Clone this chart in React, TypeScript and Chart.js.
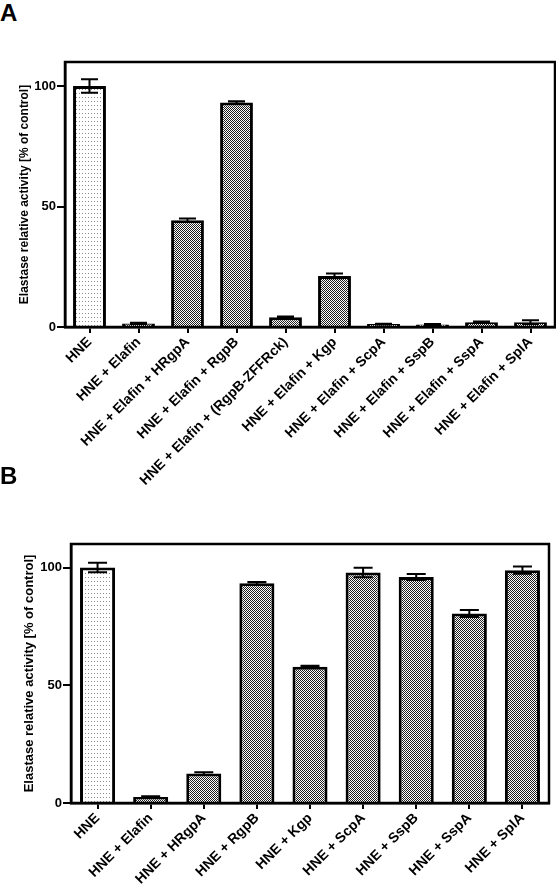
import React, { useEffect, useRef } from "react";
import { Chart, registerables } from "chart.js";

Chart.register(...registerables);

const LABELS_A = [
  "HNE",
  "HNE + Elafin",
  "HNE + Elafin + HRgpA",
  "HNE + Elafin + RgpB",
  "HNE + Elafin + (RgpB-ZFFRck)",
  "HNE + Elafin + Kgp",
  "HNE + Elafin + ScpA",
  "HNE + Elafin + SspB",
  "HNE + Elafin + SspA",
  "HNE + Elafin + SplA",
];
const VALUES_A = [100, 1.5, 44.3, 93.2, 4.0, 21.2, 1.2, 1.0, 2.0, 2.0];
const ERRORS_A = [2.8, 0.3, 0.7, 0.5, 0.4, 1.0, 0.2, 0.2, 0.3, 0.8];

const LABELS_B = [
  "HNE",
  "HNE + Elafin",
  "HNE + HRgpA",
  "HNE + RgpB",
  "HNE + Kgp",
  "HNE + ScpA",
  "HNE + SspB",
  "HNE + SspA",
  "HNE + SplA",
];
const VALUES_B = [100, 2.6, 12.5, 93.3, 57.9, 97.9, 96.0, 80.5, 98.9];
const ERRORS_B = [2.0, 0.3, 0.6, 0.6, 0.4, 2.0, 1.3, 1.5, 1.5];

const Y_TICKS = [0, 50, 100];
const Y_MIN = 0;
const Y_MAX = 110;
const Y_TITLE = "Elastase relative activity [% of control]";

const FONT = "'Liberation Sans', Arial, Helvetica, sans-serif";

function makeChecker(): CanvasPattern | string {
  const c = document.createElement("canvas");
  c.width = 2;
  c.height = 2;
  const g = c.getContext("2d");
  if (!g) return "#888";
  g.fillStyle = "#ffffff";
  g.fillRect(0, 0, 2, 2);
  g.fillStyle = "#1e1e1e";
  g.fillRect(0, 0, 1, 1);
  g.fillRect(1, 1, 1, 1);
  return g.createPattern(c, "repeat") || "#888";
}

function makeDots(): CanvasPattern | string {
  const c = document.createElement("canvas");
  c.width = 3;
  c.height = 4;
  const g = c.getContext("2d");
  if (!g) return "#eee";
  g.fillStyle = "#ffffff";
  g.fillRect(0, 0, 3, 4);
  g.fillStyle = "#8c8c8c";
  g.fillRect(1, 1, 1, 1);
  return g.createPattern(c, "repeat") || "#eee";
}

const errorBarsPlugin = {
  id: "errorBars",
  afterDatasetsDraw(chart: any, _args: any, opts: any) {
    const errs: number[] = opts.errors || [];
    const meta = chart.getDatasetMeta(0);
    const ys = chart.scales.y;
    const values: number[] = chart.data.datasets[0].data;
    const ctx = chart.ctx;
    ctx.save();
    ctx.strokeStyle = "#000";
    ctx.lineWidth = 2;
    const cap = opts.cap || 9;
    meta.data.forEach((bar: any, i: number) => {
      const e = errs[i] || 0;
      const v = values[i];
      const yt = ys.getPixelForValue(v + e);
      const yb = ys.getPixelForValue(v - e);
      const x = bar.x;
      ctx.beginPath();
      ctx.moveTo(x, yt);
      ctx.lineTo(x, yb);
      ctx.moveTo(x - cap, yt);
      ctx.lineTo(x + cap, yt);
      ctx.moveTo(x - cap, yb);
      ctx.lineTo(x + cap, yb);
      ctx.stroke();
    });
    ctx.restore();
  },
};

const framePlugin = {
  id: "frameBox",
  afterDatasetsDraw(chart: any) {
    const a = chart.chartArea;
    const ctx = chart.ctx;
    ctx.save();
    ctx.strokeStyle = "#000";
    ctx.lineWidth = 2.5;
    ctx.strokeRect(a.left, a.top, a.right - a.left, a.bottom - a.top);
    ctx.restore();
  },
};

type Area = { left: number; top: number; right: number; bottom: number };

function BarChart(props: {
  labels: string[];
  values: number[];
  errors: number[];
  width: number;
  height: number;
  area: Area;
  titlePad: number;
  titleSize: number;
  barPct: number;
  cap: number;
  style: React.CSSProperties;
}) {
  const ref = useRef<HTMLCanvasElement | null>(null);
  useEffect(() => {
    if (!ref.current) return;
    const checker = makeChecker();
    const dots = makeDots();
    const { area, width, height } = props;
    const chart = new Chart(ref.current, {
      type: "bar",
      data: {
        labels: props.labels,
        datasets: [
          {
            data: props.values,
            backgroundColor: props.values.map((_, i) => (i === 0 ? dots : checker)) as any,
            borderColor: "#000",
            borderWidth: 3,
            borderSkipped: "start",
            categoryPercentage: 1,
            barPercentage: props.barPct,
          },
        ],
      },
      options: {
        responsive: false,
        animation: false,
        events: [],
        layout: {
          padding: { left: 0, top: area.top, right: width - area.right, bottom: 0 },
        },
        plugins: {
          legend: { display: false },
          tooltip: { enabled: false },
          errorBars: { errors: props.errors, cap: props.cap },
        } as any,
        scales: {
          x: {
            offset: true,
            afterFit: (s: any) => {
              s.height = height - area.bottom;
            },
            grid: {
              display: true,
              drawOnChartArea: false,
              drawTicks: true,
              tickLength: 6,
              color: "#000",
              lineWidth: 2,
              offset: false,
            },
            border: { display: true, color: "#000", width: 2.5 },
            ticks: {
              autoSkip: false,
              minRotation: 45,
              maxRotation: 45,
              color: "#000",
              padding: 1,
              font: { family: FONT, size: 14, weight: "bold" },
            },
          },
          y: {
            min: Y_MIN,
            max: Y_MAX,
            afterFit: (s: any) => {
              s.width = area.left;
            },
            afterBuildTicks: (s: any) => {
              s.ticks = Y_TICKS.map((v) => ({ value: v }));
            },
            grid: {
              display: true,
              drawOnChartArea: false,
              drawTicks: true,
              tickLength: 8,
              color: "#000",
              lineWidth: 2,
            },
            border: { display: true, color: "#000", width: 2.5 },
            ticks: {
              color: "#000",
              padding: 1,
              font: { family: FONT, size: 13, weight: "bold" },
            },
            title: {
              display: true,
              text: Y_TITLE,
              color: "#000",
              padding: { top: props.titlePad, bottom: 0 },
              font: { family: FONT, size: props.titleSize, weight: "bold" },
            },
          },
        },
      },
      plugins: [errorBarsPlugin, framePlugin],
    });
    return () => chart.destroy();
  }, []);
  return (
    <canvas
      ref={ref}
      width={props.width}
      height={props.height}
      style={{ position: "absolute", width: props.width, height: props.height, ...props.style }}
    />
  );
}

export default function App() {
  const letter: React.CSSProperties = {
    position: "absolute",
    left: 0,
    fontFamily: FONT,
    fontWeight: "bold",
    fontSize: 24,
    lineHeight: "24px",
    color: "#000",
  };
  return (
    <div
      style={{
        position: "absolute",
        left: 0,
        top: 0,
        width: 556,
        height: 889,
        background: "#fff",
        overflow: "hidden",
      }}
    >
      <div style={{ ...letter, top: 1 }}>A</div>
      <BarChart
        labels={LABELS_A}
        values={VALUES_A}
        errors={ERRORS_A}
        width={556}
        height={500}
        area={{ left: 65, top: 62, right: 555, bottom: 327 }}
        titlePad={17}
        titleSize={12}
        barPct={0.67}
        cap={8.5}
        style={{ left: 0, top: 0 }}
      />
      <div style={{ ...letter, top: 464 }}>B</div>
      <BarChart
        labels={LABELS_B}
        values={VALUES_B}
        errors={ERRORS_B}
        width={556}
        height={429}
        area={{ left: 71, top: 84, right: 549, bottom: 343 }}
        titlePad={22}
        titleSize={13}
        barPct={0.66}
        cap={9.5}
        style={{ left: 0, top: 460 }}
      />
    </div>
  );
}
